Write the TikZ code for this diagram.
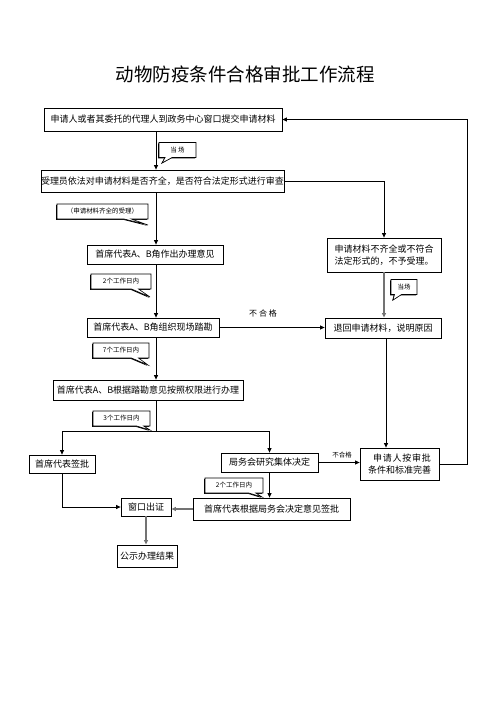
\documentclass[tikz,border=0pt]{standalone}
\usepackage{fontspec}
\setmainfont{Noto Sans CJK SC}
\usetikzlibrary{shapes.callouts,shadows,arrows.meta}

\tikzset{
    box/.style={draw, line width=0.8pt, inner sep=0pt, font=\fontsize{9}{12}\selectfont},
    tag/.style={rectangle callout, draw, line width=0.6pt, fill=white, inner sep=0pt,
        minimum height=15pt, callout pointer width=7pt, font=\fontsize{6.5}{8}\selectfont,
        drop shadow={shadow xshift=-0.8pt, shadow yshift=-0.8pt, opacity=1, fill=black}},
    link/.style={line width=0.8pt, -{Triangle[length=4.5pt,width=4pt]}},
    glink/.style={link, draw=black!55, line width=1.6pt}
}

\begin{document}
\begin{tikzpicture}[x=1pt, y=-1pt]
    \fill[white] (0,0) rectangle (496,702);
    \useasboundingbox (0,0) rectangle (496,702);

    \node[font=\fontsize{18.5}{20}\selectfont] (title) at (245,74) {动物防疫条件合格审批工作流程};

    % main column
    \node[box, minimum width=238, minimum height=23] (b1) at (163,119.5) {申请人或者其委托的代理人到政务中心窗口提交申请材料};
    \node[box, minimum width=239, minimum height=22] (b2) at (162.5,181) {受理员依法对申请材料是否齐全，是否符合法定形式进行审查};
    \node[box, minimum width=136, minimum height=19] (b3) at (155,254.5) {首席代表A、B角作出办理意见};
    \node[box, minimum width=132, minimum height=19] (b4) at (153,327.5) {首席代表A、B角组织现场踏勘};
    \node[box, minimum width=190, minimum height=20] (b5) at (148,390) {首席代表A、B根据踏勘意见按照权限进行办理};

    % right column
    \node[box, minimum width=114, minimum height=34, align=left] (bq) at (384,255) {申请材料不齐全或不符合\\法定形式的，不予受理。};
    \node[box, minimum width=116, minimum height=20] (bt) at (383,328) {退回申请材料，说明原因};

    % bottom rows
    \node[box, minimum width=66, minimum height=18] (bs) at (62,464) {首席代表签批};
    \node[box, minimum width=97, minimum height=19] (bj) at (269.5,462.5) {局务会研究集体决定};
    \node[box, minimum width=79, minimum height=32, align=right] (bw) at (399.5,464)
        {\makebox[58pt]{申\hfill 请\hfill 人\hfill 按\hfill 审\hfill 批}\\条件和标准完善};
    \node[box, minimum width=50, minimum height=18] (bc) at (146,507) {窗口出证};
    \node[box, minimum width=157, minimum height=22] (bd) at (271.5,509) {首席代表根据局务会决定意见签批};
    \node[box, minimum width=60, minimum height=22] (bg) at (147,556) {公示办理结果};

    \coordinate (spine) at (156,0);
    \coordinate (split) at (156,431);
    \coordinate (loop) at (467,0);

    \draw[link] (b1.south -| spine) -- (b2.north -| spine);
    \draw[link] (b2.south -| spine) -- (b3.north -| spine);
    \draw[link] (b3.south -| spine) -- (b4.north -| spine);
    \draw[link] (b4.south -| spine) -- (b5.north -| spine);
    \draw[line width=0.8pt] (b5.south -| spine) -- (split);
    \draw[link] (split) -| (bs.north);
    \draw[link] (split) -| (bj.north);

    \draw[link] (b2.east) -| (bq.north);
    \draw[glink] (bq.south) -- (bq.south |- bt.north);
    \draw[link] (b4.east) -- (b4.east -| bt.west);
    \node[font=\fontsize{8}{10}\selectfont] (nq1) at (263,313) {不\ 合\ 格};
    \draw[link] ([xshift=3pt]bt.south) -- ([xshift=3pt]bt.south |- bw.north);

    \draw[link] (bj.east) -- (bj.east -| bw.west);
    \node[font=\fontsize{6.5}{8}\selectfont] (nq2) at (342,455) {不合格};
    \draw[link] (bw.east) -- (bw.east -| loop) -- (b1.east -| loop) -- (b1.east);

    \draw[link] (bs.south) |- (bc.west);
    \draw[link] (bj.south) -- (bj.south |- bd.north);
    \draw[glink] (bd.west) -- (bd.west -| bc.east);
    \draw[glink] (bc.south) -- (bc.south |- bg.north);

    % notes
    \foreach \cx/\cy/\w/\tx/\ty/\txt [count=\i] in {
        177.5/150/37/162/163/{当\ 场},
        102.5/211.5/91/148/225/{（申请材料齐全的受理）},
        121/281.5/60/150/297/{2个工作日内},
        404/287/26/393/300/{当场},
        121/350.5/56/148/365/{7个工作日内},
        121.5/418.5/57/150/430/{3个工作日内},
        234/485.5/58/262/497/{2个工作日内}}{
        \node[tag, minimum width=\w, callout absolute pointer={(\tx,\ty)}] (c\i) at (\cx,\cy) {\txt};
    }
\end{tikzpicture}
\end{document}
